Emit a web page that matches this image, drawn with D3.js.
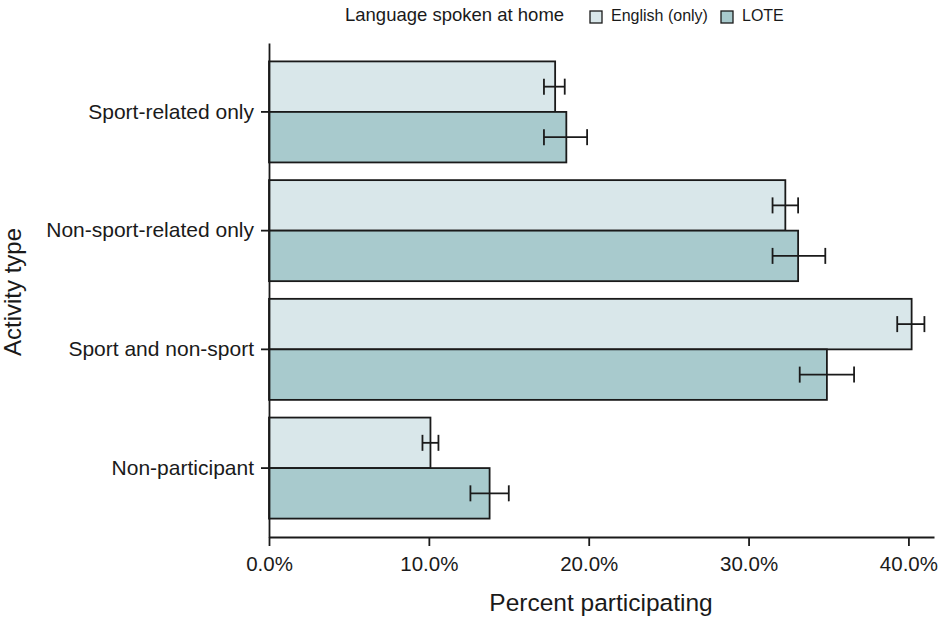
<!DOCTYPE html>
<html>
  <head>
    <meta charset="UTF-8" />
    <script src="https://d3js.org/d3.v7.min.js"></script>
    <style>
      body { margin: 0; background: #fff; }
      text { font-family: "Liberation Sans", Arial, sans-serif; fill: #1a1a1a; }
    </style>
  </head>
  <body>
    <svg width="939" height="618"></svg>

    <script>
      // data
      const categories = ["Sport-related only", "Non-sport-related only", "Sport and non-sport", "Non-participant"];
      const seriesNames = ["English (only)", "LOTE"];
      const englishVals = [17.9, 32.3, 40.2, 10.1];
      const englishLow = [17.2, 31.5, 39.3, 9.6];
      const englishHigh = [18.5, 33.1, 41.0, 10.6];
      const loteVals = [18.6, 33.1, 34.9, 13.8];
      const loteLow = [17.2, 31.5, 33.2, 12.6];
      const loteHigh = [19.9, 34.8, 36.6, 15.0];
      const xTicks = [0, 10, 20, 30, 40];

      const colors = ["#d9e7ea", "#a8cacd"];
      const ink = "#1a1a1a";

      const svg = d3.select("svg");

      const x = d3.scaleLinear().domain([0, 41.6]).range([269, 934]);
      const y = d3.scaleBand().domain(categories).range([43, 537])
        .paddingInner(0.149).paddingOuter(0.155);
      const ySub = d3.scaleBand().domain(seriesNames).range([0, y.bandwidth()]);

      const rows = [];
      categories.forEach(function (c, i) {
        rows.push({ cat: c, s: seriesNames[0], v: englishVals[i], lo: englishLow[i], hi: englishHigh[i] });
        rows.push({ cat: c, s: seriesNames[1], v: loteVals[i], lo: loteLow[i], hi: loteHigh[i] });
      });

      // bars
      svg.append("g")
        .selectAll("rect")
        .data(rows)
        .join("rect")
        .attr("x", x(0))
        .attr("y", d => y(d.cat) + ySub(d.s))
        .attr("width", d => x(d.v) - x(0))
        .attr("height", ySub.bandwidth())
        .attr("fill", d => colors[seriesNames.indexOf(d.s)])
        .attr("stroke", ink)
        .attr("stroke-width", 1.8);

      // error bars
      const eb = svg.append("g").attr("stroke", ink).attr("stroke-width", 1.8);
      rows.forEach(function (d) {
        const cy = y(d.cat) + ySub(d.s) + ySub.bandwidth() / 2;
        eb.append("line").attr("x1", x(d.lo)).attr("x2", x(d.hi)).attr("y1", cy).attr("y2", cy);
        eb.append("line").attr("x1", x(d.lo)).attr("x2", x(d.lo)).attr("y1", cy - 8).attr("y2", cy + 8);
        eb.append("line").attr("x1", x(d.hi)).attr("x2", x(d.hi)).attr("y1", cy - 8).attr("y2", cy + 8);
      });

      // axes
      const xAxis = svg.append("g")
        .attr("transform", "translate(0,537)")
        .call(d3.axisBottom(x).tickValues(xTicks).tickFormat(d => d.toFixed(1) + "%")
          .tickSize(9).tickSizeOuter(0).tickPadding(10));
      const yAxis = svg.append("g")
        .attr("transform", "translate(269,0)")
        .call(d3.axisLeft(y).tickSize(8).tickSizeOuter(0).tickPadding(7));

      [xAxis, yAxis].forEach(function (g) {
        g.selectAll("path, line").attr("stroke", ink).attr("stroke-width", 1.8);
        g.selectAll("text").attr("fill", ink)
          .style("font-family", "'Liberation Sans', Arial, sans-serif");
      });
      xAxis.selectAll("text").style("font-size", "20.5px");
      yAxis.selectAll("text").style("font-size", "21px");

      // axis titles
      svg.append("text")
        .attr("x", 601).attr("y", 611)
        .attr("text-anchor", "middle")
        .style("font-size", "24.5px")
        .text("Percent participating");
      svg.append("text")
        .attr("transform", "translate(21,292) rotate(-90)")
        .attr("text-anchor", "middle")
        .style("font-size", "24px")
        .text("Activity type");

      // legend
      svg.append("text")
        .attr("x", 345).attr("y", 21)
        .style("font-size", "18.5px")
        .text("Language spoken at home");
      const legX = [590, 721];
      seriesNames.forEach(function (s, i) {
        svg.append("rect")
          .attr("x", legX[i]).attr("y", 11)
          .attr("width", 12).attr("height", 12)
          .attr("fill", colors[i])
          .attr("stroke", ink).attr("stroke-width", 1.3);
        svg.append("text")
          .attr("x", legX[i] + 21).attr("y", 21)
          .style("font-size", "16px")
          .text(s);
      });
    </script>
  </body>
</html>
